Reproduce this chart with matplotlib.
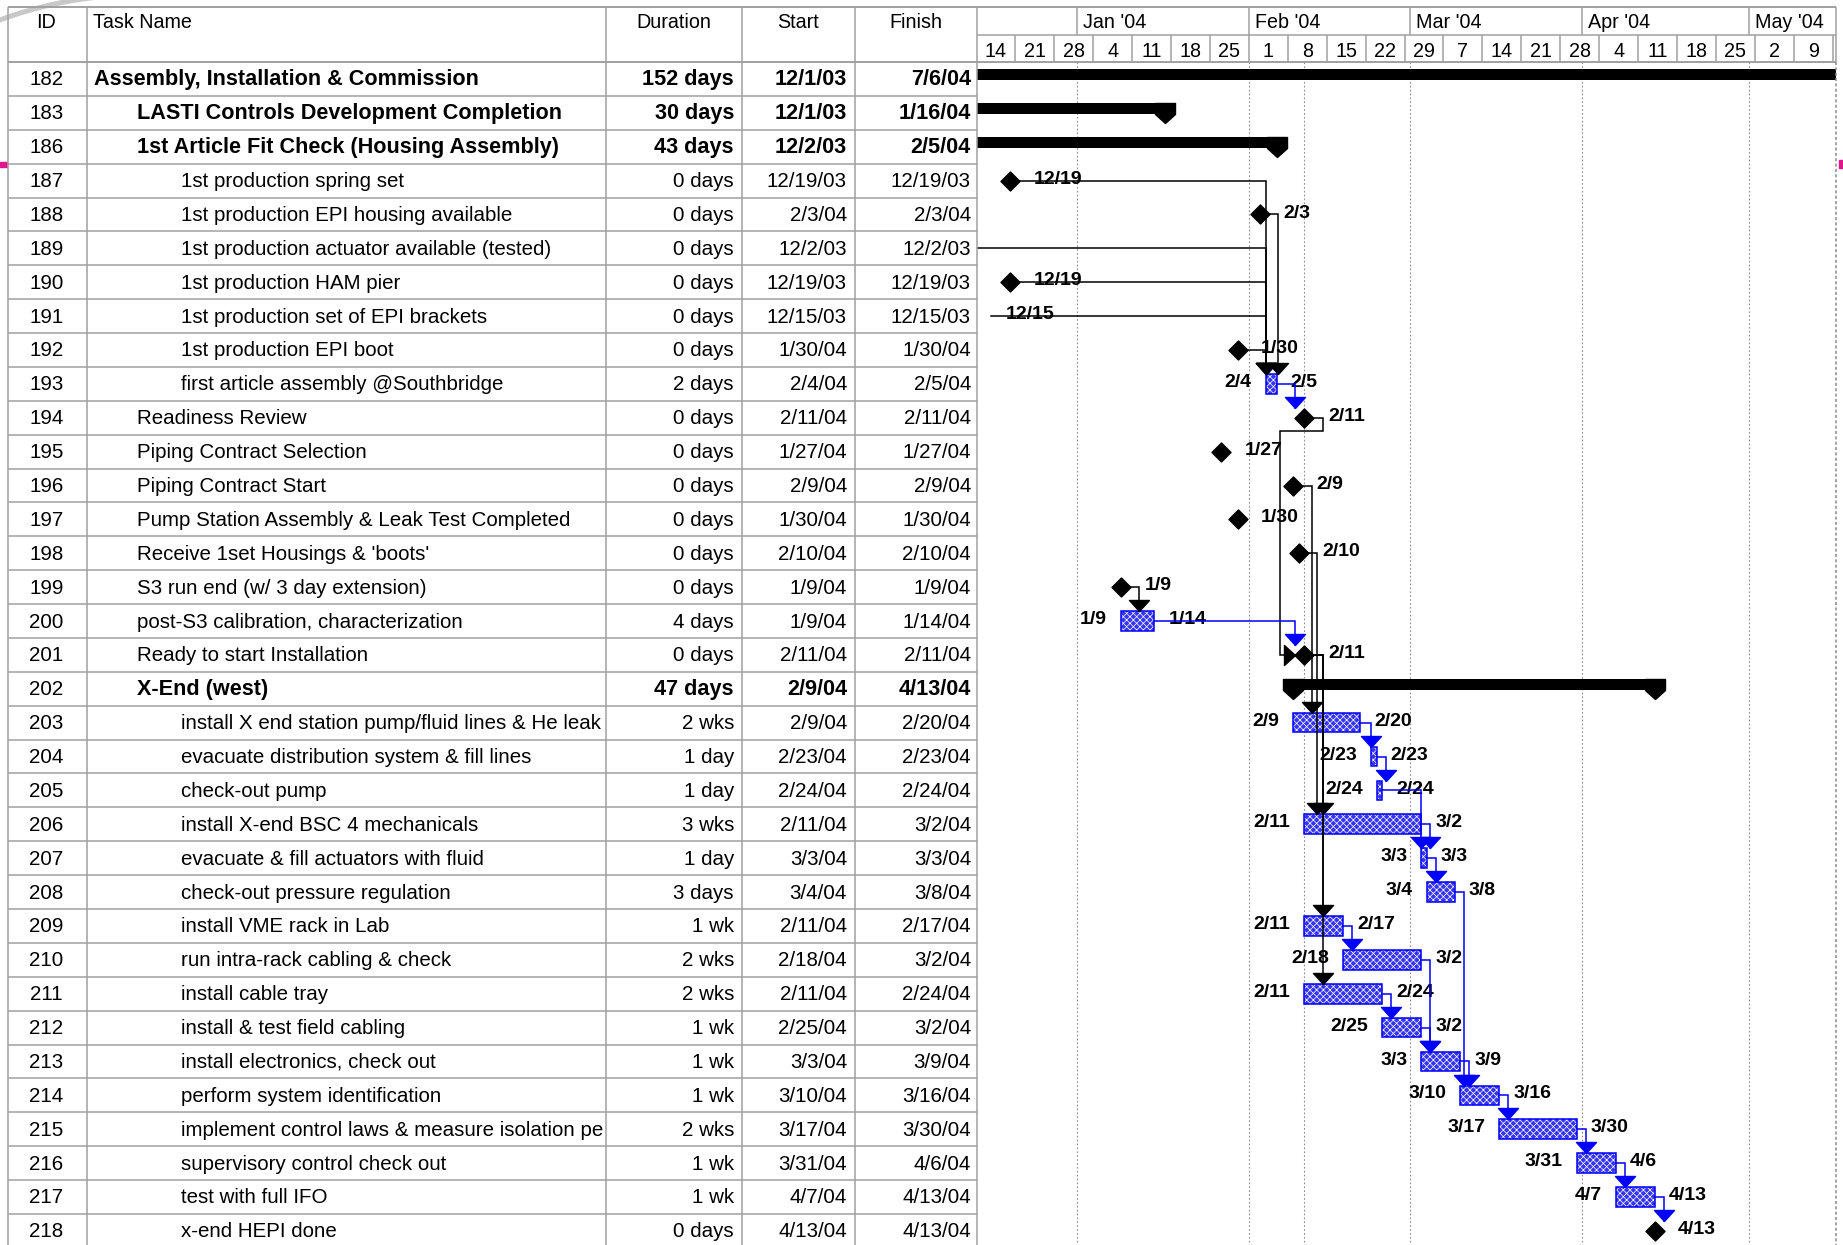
import datetime as dt
import pandas as pd
import matplotlib
matplotlib.use("Agg")
import matplotlib.pyplot as plt
import matplotlib.dates as mdates
from matplotlib.path import Path
from matplotlib.patches import Arc, Rectangle

plt.rcParams["font.family"] = ["Liberation Sans", "DejaVu Sans"]
plt.rcParams["hatch.linewidth"] = 0.5

# ---- schedule table ----
ids = [182, 183, 186, 187, 188, 189, 190, 191, 192, 193, 194, 195, 196, 197, 198, 199, 200, 201,
       202, 203, 204, 205, 206, 207, 208, 209, 210, 211, 212, 213, 214, 215, 216, 217, 218]
names = [
    "Assembly, Installation & Commission",
    "LASTI Controls Development Completion",
    "1st Article Fit Check (Housing Assembly)",
    "1st production spring set",
    "1st production EPI housing available",
    "1st production actuator available (tested)",
    "1st production HAM pier",
    "1st production set of EPI brackets",
    "1st production EPI boot",
    "first article assembly @Southbridge",
    "Readiness Review",
    "Piping Contract Selection",
    "Piping Contract Start",
    "Pump Station Assembly & Leak Test Completed",
    "Receive 1set Housings & 'boots'",
    "S3 run end (w/ 3 day extension)",
    "post-S3 calibration, characterization",
    "Ready to start Installation",
    "X-End (west)",
    "install X end station pump/fluid lines & He leak t",
    "evacuate distribution system & fill lines",
    "check-out pump",
    "install X-end BSC 4 mechanicals",
    "evacuate & fill actuators with fluid",
    "check-out pressure regulation",
    "install VME rack in Lab",
    "run intra-rack cabling & check",
    "install cable tray",
    "install & test field cabling",
    "install electronics, check out",
    "perform system identification",
    "implement control laws & measure isolation pe",
    "supervisory control check out",
    "test with full IFO",
    "x-end HEPI done",
]
levels = [0, 1, 1, 2, 2, 2, 2, 2, 2, 2] + [1] * 9 + [2] * 16
durations = ["152 days", "30 days", "43 days", "0 days", "0 days", "0 days", "0 days", "0 days",
             "0 days", "2 days", "0 days", "0 days", "0 days", "0 days", "0 days", "0 days",
             "4 days", "0 days", "47 days", "2 wks", "1 day", "1 day", "3 wks", "1 day", "3 days",
             "1 wk", "2 wks", "2 wks", "1 wk", "1 wk", "1 wk", "2 wks", "1 wk", "1 wk", "0 days"]
starts = ["12/1/03", "12/1/03", "12/2/03", "12/19/03", "2/3/04", "12/2/03", "12/19/03", "12/15/03",
          "1/30/04", "2/4/04", "2/11/04", "1/27/04", "2/9/04", "1/30/04", "2/10/04", "1/9/04",
          "1/9/04", "2/11/04", "2/9/04", "2/9/04", "2/23/04", "2/24/04", "2/11/04", "3/3/04",
          "3/4/04", "2/11/04", "2/18/04", "2/11/04", "2/25/04", "3/3/04", "3/10/04", "3/17/04",
          "3/31/04", "4/7/04", "4/13/04"]
finishes = ["7/6/04", "1/16/04", "2/5/04", "12/19/03", "2/3/04", "12/2/03", "12/19/03", "12/15/03",
            "1/30/04", "2/5/04", "2/11/04", "1/27/04", "2/9/04", "1/30/04", "2/10/04", "1/9/04",
            "1/14/04", "2/11/04", "4/13/04", "2/20/04", "2/23/04", "2/24/04", "3/2/04", "3/3/04",
            "3/8/04", "2/17/04", "3/2/04", "2/24/04", "3/2/04", "3/9/04", "3/16/04", "3/30/04",
            "4/6/04", "4/13/04", "4/13/04"]
summary_ids = [182, 183, 186, 202]
end_of_day = [187, 190, 218]   # milestones sitting at the end of their day
links = [(187, 193), (188, 193), (189, 193), (190, 193), (191, 193), (192, 193),
         (193, 194), (194, 201), (196, 203), (198, 206), (199, 200), (200, 201),
         (201, 206), (201, 209), (201, 211),
         (203, 204), (204, 205), (205, 207), (206, 207), (207, 208), (208, 214),
         (209, 210), (210, 213), (211, 212), (212, 213), (213, 214),
         (214, 215), (215, 216), (216, 217), (217, 218)]
status_date = "2/11/04"

# ---- layout (pixels) ----
W, H = 1843, 1245
TOP, MID, HDR = 7, 35, 62
ROW = 33.88
COL = [8, 87, 606, 742, 855, 977]
RIGHT = 1836
n_vis = (H - HDR) / ROW
t_left = dt.datetime(2003, 12, 14, 2, 30)
t_right = dt.datetime(2004, 5, 16, 14, 24)

GRID = "#a0a0a0"
BLUE = "#0000ff"
FILL = "#3636f0"


def pdate(s):
    return dt.datetime.strptime(s, "%m/%d/%y")


def md(d):
    return f"{d.month}/{d.day}"


n = len(ids)
row = {t: i for i, t in enumerate(ids)}
kind = ["sum" if t in summary_ids else ("ms" if d.startswith("0 ") else "task")
        for t, d in zip(ids, durations)]
d_start = [pdate(s) for s in starts]
d_fin = [pdate(s) for s in finishes]

fig = plt.figure(figsize=(W / 100, H / 100), dpi=100)
ax_tab = fig.add_axes([0, 0, COL[-1] / W, (H - HDR) / H])
ax_g = fig.add_axes([COL[-1] / W, 0, (RIGHT - COL[-1]) / W, (H - HDR) / H])
ax_gh = fig.add_axes([COL[-1] / W, (H - HDR) / H, (RIGHT - COL[-1]) / W, (HDR - TOP) / H],
                     sharex=ax_g)
ax_o = fig.add_axes([0, 0, 1, 1])
for a in (ax_tab, ax_g, ax_gh, ax_o):
    a.set_axis_off()
ax_tab.set_xlim(0, COL[-1])
ax_tab.set_ylim(n_vis, 0)
ax_g.set_xlim(t_left, t_right)
ax_g.set_ylim(n_vis, 0)
ax_gh.set_ylim(HDR, TOP)
ax_o.set_xlim(0, W)
ax_o.set_ylim(H, 0)

xl, xr = mdates.date2num(t_left), mdates.date2num(t_right)
day_px = (xr - xl) / (RIGHT - COL[-1])


def dx(p):
    return p * day_px


def dy(p):
    return p / ROW


# ---- table body ----
name_clip = Rectangle((COL[1], 0), COL[2] - COL[1] - 3, n_vis, transform=ax_tab.transData)
for i in range(n):
    yc = i + 0.53
    bold = kind[i] == "sum"
    fs = 15.6 if bold else 14.8
    fw = "bold" if bold else "normal"
    ax_tab.text(46.5, yc, str(ids[i]), ha="center", va="center", fontsize=14.8)
    t = ax_tab.text(94 + 43.5 * levels[i], yc, names[i], ha="left", va="center",
                    fontsize=fs, fontweight=fw)
    t.set_clip_on(True)
    t.set_clip_path(name_clip)
    ax_tab.text(COL[3] - 8, yc, durations[i], ha="right", va="center", fontsize=fs, fontweight=fw)
    ax_tab.text(COL[4] - 8, yc, starts[i], ha="right", va="center", fontsize=fs, fontweight=fw)
    ax_tab.text(COL[5] - 6, yc, finishes[i], ha="right", va="center", fontsize=fs, fontweight=fw)
ax_tab.hlines(range(1, n + 1), COL[0], COL[-1], colors=GRID, lw=1.1)

# ---- table header and frame ----
HDR_Y = 23
hdr_font = dict(fontsize=14.2, va="center")
ax_o.text(46, HDR_Y, "ID", ha="center", **hdr_font)
ax_o.text(93, HDR_Y, "Task Name", ha="left", **hdr_font)
ax_o.text((COL[2] + COL[3]) / 2, HDR_Y, "Duration", ha="center", **hdr_font)
ax_o.text((COL[3] + COL[4]) / 2, HDR_Y, "Start", ha="center", **hdr_font)
ax_o.text((COL[4] + COL[5]) / 2, HDR_Y, "Finish", ha="center", **hdr_font)
ax_o.add_patch(Arc((139, 395), 800, 800, theta1=248, theta2=264, color="#c8c8c8", lw=3.6, zorder=0))
ax_o.vlines(COL, TOP, H, colors=GRID, lw=1.1)
ax_o.hlines([TOP, HDR], COL[0], RIGHT, colors=GRID, lw=1.4)
ax_o.hlines(MID, COL[-1], RIGHT, colors=GRID, lw=1.1)
ax_o.vlines(RIGHT, TOP, HDR, colors=GRID, lw=1.1)
ax_o.vlines(RIGHT, HDR, H, colors="#8c8c8c", lw=1.1, linestyles=(0, (2, 1.5)))
ax_o.add_patch(Rectangle((0, 162), 7, 5, color="#e0168c"))
ax_o.add_patch(Rectangle((1839, 160), 4, 8, color="#e0168c"))

# ---- timescale header ----
months = pd.date_range("2004-01-01", "2004-05-01", freq="MS").to_pydatetime()
weeks = pd.date_range("2003-12-14", "2004-05-16", freq="W-SUN").to_pydatetime()
m_num = mdates.date2num(months)
w_num = mdates.date2num(weeks)
ax_gh.vlines(m_num, TOP, MID, colors=GRID, lw=1.1)
ax_gh.vlines(w_num, MID, HDR, colors=GRID, lw=1.1)
for m, x in zip(months, m_num):
    ax_gh.text(x + dx(6), HDR_Y, m.strftime("%b '%y"), ha="left", va="center", fontsize=14.2,
               clip_on=True)
for w, x in zip(weeks[:-1], w_num[:-1]):
    ax_gh.text(x + 3.5, 51.5, str(w.day), ha="center", va="center", fontsize=14.2, clip_on=True)

# ---- gantt gridlines ----
ax_g.vlines(list(m_num) + [mdates.date2num(pdate(status_date))], 0, n_vis,
            colors="#8c8c8c", lw=0.8, linestyles=(0, (1.5, 2)), zorder=0)

# ---- marker shapes ----
diamond = Path([(0, 1), (1, 0), (0, -1), (-1, 0), (0, 1)],
               [Path.MOVETO, Path.LINETO, Path.LINETO, Path.LINETO, Path.CLOSEPOLY])
cap = Path([(-1, 1), (1, 1), (1, -0.1), (0, -1), (-1, -0.1), (-1, 1)],
           [Path.MOVETO] + [Path.LINETO] * 4 + [Path.CLOSEPOLY])
arrow_down = Path([(-1, 1.1), (1, 1.1), (0, 0), (-1, 1.1)],
                  [Path.MOVETO, Path.LINETO, Path.LINETO, Path.CLOSEPOLY])
arrow_right = Path([(-1.1, 1), (-1.1, -1), (0, 0), (-1.1, 1)],
                   [Path.MOVETO, Path.LINETO, Path.LINETO, Path.CLOSEPOLY])
DIA_HALF = 9.5       # px
PT = 72 / 100

# ---- bars, milestones, labels ----
x_in, x_out, half_h = [], [], []
lbl = dict(fontsize=14, fontweight="bold", va="center", textcoords="offset points",
           annotation_clip=True, clip_on=True, zorder=4)
for i in range(n):
    yc = i + 0.5
    a = mdates.date2num(d_start[i])
    b = mdates.date2num(d_fin[i]) + 1
    if kind[i] == "sum":
        ax_g.barh(i + 0.375, b - a, left=a, height=0.31, color="black", zorder=3)
        ax_g.plot([a, b], [i + 0.52] * 2, ls="none", marker=cap, ms=20 * PT, color="black",
                  zorder=3)
        x_in.append(a)
        x_out.append(b)
        half_h.append(0.3)
    elif kind[i] == "ms":
        c = a + (1 if ids[i] in end_of_day else 0)
        if c - dx(DIA_HALF) >= xl:
            ax_g.plot(c, yc, marker=diamond, ms=2 * DIA_HALF * PT, color="black", zorder=6)
        ax_g.annotate(md(d_start[i]), xy=(c, yc), xytext=(23.5 * PT, 1), ha="left", **lbl)
        x_in.append(c - dx(DIA_HALF))
        x_out.append(c + dx(DIA_HALF))
        half_h.append(dy(DIA_HALF))
    else:
        ax_g.barh(yc, b - a, left=a, height=0.58, color=FILL, edgecolor="white",
                  hatch="xxxxx", linewidth=0, zorder=3)
        ax_g.barh(yc, b - a, left=a, height=0.58, fill=False, edgecolor=BLUE,
                  linewidth=1.1, zorder=3)
        ax_g.annotate(md(d_start[i]), xy=(a, yc), xytext=(-14 * PT, 1), ha="right", **lbl)
        ax_g.annotate(md(d_fin[i]), xy=(b, yc), xytext=(14 * PT, 1), ha="left", **lbl)
        x_in.append(a)
        x_out.append(b)
        half_h.append(0.29)

# ---- dependency links ----
for p, s in links:
    ip, js = row[p], row[s]
    col = "black" if kind[ip] == "ms" else BLUE
    x0, y0 = x_out[ip], ip + 0.5
    xv = max(x_in[js], x0 + dx(9))
    line = dict(color=col, lw=1.1, zorder=5, solid_joinstyle="miter")
    if xv <= x_out[js] + dx(5):
        # drop straight down onto the successor
        tip = js + 0.5 - half_h[js]
        ax_g.plot([x0, xv, xv], [y0, y0, tip], **line)
        ax_g.plot(xv, tip, marker=arrow_down, ms=22 * PT, color=col, zorder=6)
    else:
        # successor lies to the left: loop back and enter from the left side
        ymid = y0 + 0.4
        xb = x_in[js] - dx(15)
        ys = js + 0.5
        ax_g.plot([x0, xv, xv, xb, xb, x_in[js]], [y0, y0, ymid, ymid, ys, ys], **line)
        ax_g.plot(x_in[js], ys, marker=arrow_right, ms=22 * PT, color=col, zorder=6)

fig.savefig("out.png", dpi=100)
